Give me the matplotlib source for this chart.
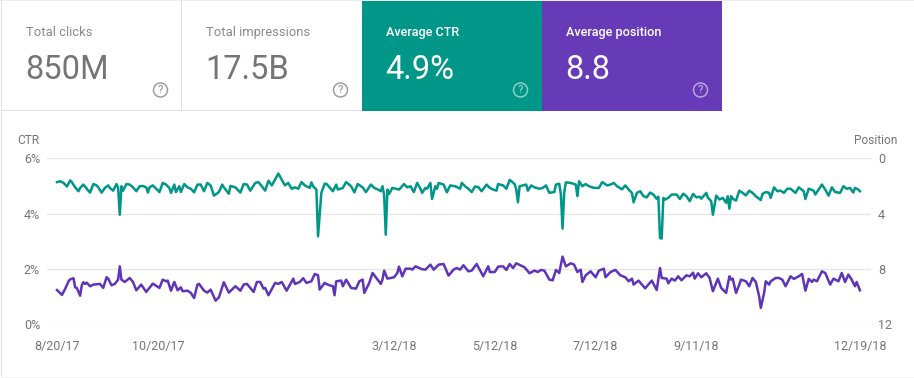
import datetime as dt
import matplotlib
matplotlib.use("Agg")
import matplotlib.pyplot as plt
import matplotlib.dates as mdates
from matplotlib.patches import Rectangle, Circle

plt.rcParams['font.family'] = ['Roboto', 'DejaVu Sans']

START = dt.date(2017, 8, 20)

card_labels = ["Total clicks", "Total impressions", "Average CTR", "Average position"]
card_values = ["850M", "17.5B", "4.9%", "8.8"]

ctr_ticks = [0, 2, 4, 6]
ctr_tick_labels = ["0%", "2%", "4%", "6%"]
pos_ticks = [0, 4, 8, 12]
date_ticks = ["2017-08-20", "2017-10-20", "2018-03-12", "2018-05-12", "2018-07-12", "2018-09-11", "2018-12-19"]
date_labels = ["8/20/17", "10/20/17", "3/12/18", "5/12/18", "7/12/18", "9/11/18", "12/19/18"]

ctr_days = [0, 2, 4, 6, 8, 9, 11, 13, 14, 16, 18, 20, 22, 24, 25, 27, 29, 31, 32, 34, 36, 37, 38, 39, 40, 42, 44, 46, 48, 50, 52, 54, 55, 56, 58, 60, 62, 64, 66, 68, 69, 71, 72, 74, 75, 77, 79, 81,
            83, 85, 87, 89, 91, 93, 95, 98, 100, 101, 104, 105, 108, 111, 113, 115, 117, 120, 122, 124, 126, 128, 130, 134, 136, 138, 140, 142, 144, 146, 148, 150, 153, 154, 155, 157, 158, 160, 162,
            163, 165, 167, 169, 170, 173, 175, 178, 180, 182, 185, 187, 190, 192, 194, 196, 197, 198, 199, 200, 201, 203, 205, 207, 208, 210, 212, 214, 216, 218, 220, 221, 223, 224, 226, 227, 229, 230, 231, 234, 236, 238, 241, 244,
            245, 247, 249, 251, 253, 255, 257, 260, 262, 264, 266, 267, 270, 272, 274, 277, 278, 279, 280, 284, 285, 287, 289, 292, 294, 296, 298, 301, 302, 304, 305, 306, 307, 308, 311, 314, 315, 316, 318, 320, 322, 325,
            328, 330, 333, 335, 337, 339, 342, 344, 346, 348, 349, 351, 353, 355, 357, 359, 361, 363, 364, 365, 366, 367, 368, 370, 372, 375, 377, 379, 381, 383, 385, 387, 389, 390, 393, 394, 396, 397, 399, 401, 403, 405, 406, 407,
            408, 409, 411, 413, 415, 417, 419, 421, 423, 426, 427, 429, 431, 432, 434, 436, 438, 440, 442, 444, 447, 449, 452, 453, 455, 458, 459, 463, 465, 467, 469, 471, 474, 476, 478, 480, 482, 483, 485, 486]
ctr_values = [5.14, 5.17, 5.11, 4.98, 5.20, 5.14, 4.95, 4.81, 4.93, 5.05, 4.90, 4.76, 5.07, 5.02, 4.95, 4.76, 4.93, 5.02, 4.93, 4.83, 5.07, 4.93, 3.96, 4.99, 4.83, 5.07, 5.05, 4.95, 4.81, 4.99, 5.00, 4.95, 4.76, 4.95, 5.02, 4.90, 4.78, 5.11, 5.05, 4.93, 4.75, 5.05, 4.78, 4.99, 4.78, 5.07, 4.95, 4.90,
              4.77, 5.05, 5.05, 4.81, 5.11, 5.02, 4.65, 4.78, 5.05, 4.95, 4.72, 5.00, 4.95, 4.76, 5.07, 5.05, 4.83, 5.11, 5.14, 4.99, 4.83, 5.19, 5.02, 5.45, 5.23, 5.02, 5.11, 4.90, 4.95, 4.90, 5.14, 5.02, 4.93, 5.13, 4.99, 4.87, 3.18, 4.75, 5.08,
              5.08, 4.95, 4.81, 5.05, 4.87, 4.93, 5.14, 4.99, 4.77, 5.07, 4.95, 4.78, 5.05, 4.93, 4.88, 4.81, 4.99, 4.69, 3.24, 4.87, 4.71, 4.93, 4.90, 4.87, 4.93, 5.07, 4.95, 4.99, 4.78, 5.11, 4.90, 4.75, 4.93, 4.90, 5.11, 4.53, 4.99, 4.90, 5.11, 5.05, 4.77, 5.02, 4.99, 4.90,
              5.11, 4.99, 4.90, 4.78, 4.98, 4.96, 4.81, 5.05, 4.93, 4.87, 4.83, 5.07, 5.02, 4.90, 5.22, 5.07, 4.87, 4.41, 4.99, 5.05, 4.83, 5.02, 4.95, 4.90, 4.93, 5.02, 4.75, 4.78, 5.05, 5.08, 4.69, 3.46, 4.75, 5.13, 5.11, 5.05, 4.63, 5.17, 4.99, 5.07, 4.99, 4.93,
              4.93, 5.14, 5.02, 5.05, 5.11, 4.99, 4.88, 5.02, 4.87, 4.75, 4.41, 4.75, 4.81, 4.63, 4.59, 4.76, 4.69, 4.53, 4.61, 3.12, 3.10, 4.57, 4.51, 4.57, 4.69, 4.69, 4.53, 4.72, 4.63, 4.45, 4.71, 4.59, 4.61, 4.54, 4.75, 4.57, 4.45, 3.96, 4.65, 4.51, 4.57, 4.39, 4.63, 4.18,
              4.63, 4.54, 4.47, 4.83, 4.75, 4.66, 4.83, 4.75, 4.63, 4.49, 4.71, 4.78, 4.75, 4.57, 4.95, 4.81, 4.83, 4.75, 4.90, 4.90, 4.75, 4.95, 4.81, 4.53, 4.90, 4.83, 4.69, 5.05, 4.87, 4.65, 4.95, 4.78, 4.75, 4.99, 4.90, 4.93, 4.76, 4.93, 4.87, 4.81]

pos_days = [0, 3, 5, 7, 8, 10, 11, 12, 14, 15, 16, 17, 18, 20, 22, 26, 28, 30, 31, 33, 35, 37, 38, 39, 41, 44, 46, 48, 51, 54, 58, 62, 64, 66, 67, 69, 71, 73, 75, 76, 79, 81,
            83, 85, 86, 89, 91, 93, 96, 98, 101, 104, 108, 111, 113, 115, 119, 121, 123, 125, 126, 128, 132, 134, 136, 139, 143, 144, 147, 149, 151, 154, 156, 158, 159, 162,
            163, 165, 167, 168, 169, 172, 173, 175, 178, 181, 183, 185, 186, 189, 191, 194, 196, 197, 198, 200, 204, 206, 207, 209, 211, 214, 215, 217, 221, 223, 226, 228, 231, 234, 237, 240, 242, 244,
            246, 249, 251, 254, 258, 261, 262, 265, 267, 270, 272, 274, 276, 278, 281, 283, 286, 289, 291, 293, 295, 298, 300, 302, 304, 306, 308, 311, 313, 315, 317, 318, 320, 323, 326,
            328, 331, 332, 335, 338, 341, 344, 346, 348, 349, 352, 356, 360, 363, 365, 366, 369, 370, 372, 374, 376, 378, 381, 383, 385, 386, 388, 390, 393, 395, 397, 400, 402, 405, 407,
            408, 409, 411, 413, 414, 417, 419, 421, 423, 425, 426, 428, 429, 431, 432, 435, 437, 439, 441, 444, 446, 449, 451, 453, 455, 457, 458, 460, 463, 465, 468, 470, 473, 475, 477, 479, 481, 483, 484, 486]
pos_values = [9.52, 9.88, 9.42, 8.89, 8.75, 8.67, 9.33, 9.37, 9.93, 9.18, 8.96, 9.08, 8.99, 9.25, 9.13, 9.08, 9.37, 8.60, 8.70, 9.18, 9.08, 8.77, 7.81, 8.77, 8.94, 8.65, 8.94, 9.54, 9.13, 9.66, 9.06, 9.37, 8.77, 8.89, 8.84, 9.57, 8.94, 9.54, 9.33, 9.61, 9.57, 9.73,
              10.10, 9.13, 9.08, 9.57, 9.71, 9.49, 10.29, 10.05, 8.96, 9.71, 9.25, 9.57, 9.13, 9.08, 9.66, 8.94, 8.94, 9.42, 9.37, 9.90, 9.01, 9.08, 8.94, 9.57, 8.70, 9.08, 8.94, 8.67, 9.01, 8.89, 8.36, 8.46, 9.49, 9.01,
              9.08, 9.18, 9.25, 9.90, 8.89, 8.84, 9.25, 8.77, 9.37, 9.42, 8.89, 8.77, 9.73, 9.01, 8.29, 8.77, 9.08, 8.77, 8.12, 8.70, 8.60, 8.29, 7.83, 8.53, 7.98, 7.98, 8.05, 7.81, 8.02, 8.05, 7.69, 8.05, 7.69, 7.64, 8.48, 8.05, 7.93, 8.05,
              7.73, 8.17, 8.12, 7.64, 8.53, 7.81, 8.22, 8.22, 7.83, 7.81, 8.07, 7.64, 7.93, 7.59, 7.76, 7.88, 8.31, 8.12, 8.22, 8.07, 8.12, 8.77, 8.82, 8.07, 8.29, 7.11, 7.81, 7.59, 7.69, 8.22, 8.05, 8.94, 8.46, 8.17, 8.60,
              8.12, 7.98, 8.60, 8.22, 8.07, 8.46, 8.60, 8.89, 8.70, 9.13, 8.84, 9.40, 8.84, 9.52, 7.93, 8.65, 8.70, 9.04, 8.70, 8.84, 8.53, 8.82, 8.46, 8.53, 8.27, 8.70, 8.31, 8.60, 8.31, 8.65, 9.61, 8.70, 9.37, 9.73, 8.53,
              8.77, 8.70, 9.73, 9.13, 8.77, 8.89, 9.25, 8.65, 8.94, 9.98, 10.82, 9.73, 8.89, 9.13, 8.89, 8.65, 8.65, 8.77, 9.25, 8.53, 8.72, 8.53, 8.36, 9.57, 8.72, 8.94, 8.77, 8.89, 8.17, 8.29, 9.13, 8.70, 8.89, 8.29, 8.94, 8.41, 8.77, 9.25, 8.94, 9.54]

W, H = 914, 378
TEAL, PURPLE = "#009688", "#673ab7"
LINE_PURPLE = "#5e35b8"
GREY = "#757575"
BORDER = "#e0e0e0"

fig = plt.figure(figsize=(W / 100, H / 100), dpi=100, facecolor="white")

# page furniture in pixel coordinates
bg = fig.add_axes([0, 0, 1, 1], zorder=0)
bg.set_xlim(0, W)
bg.set_ylim(H, 0)
bg.axis("off")
bg.add_patch(Rectangle((0, 0), W, 1, color="#eeeeee", lw=0))
bg.add_patch(Rectangle((1, 0), 1.3, H, color=BORDER, lw=0))
bg.add_patch(Rectangle((1, 376.5), W, 1, color="#f2f2f2", lw=0))
bg.add_patch(Rectangle((181, 1), 1, 109, color=BORDER, lw=0))
bg.add_patch(Rectangle((2, 110), 360, 1, color=BORDER, lw=0))
bg.add_patch(Rectangle((362, 1), 180, 110, color=TEAL, lw=0))
bg.add_patch(Rectangle((542, 1), 180, 110, color=PURPLE, lw=0))

card_x = [25.5, 205.5, 385.5, 565.5]
icon_x = [160.5, 340.5, 520.5, 700.5]
for i in range(4):
    on_colour = i >= 2
    fg = "white" if on_colour else "#8a8a8a"
    bg.text(card_x[i], 32.5, card_labels[i], color=fg, fontsize=9.4 if not on_colour else 9.1,
            fontweight="medium" if on_colour else "normal", va="center", ha="left")
    bg.text(card_x[i], 70, card_values[i], color="white" if on_colour else GREY, fontsize=23.5,
            va="center", ha="left")
    icon = "#ffffff" if on_colour else "#9e9e9e"
    alpha = 0.55 if on_colour else 1
    bg.add_patch(Circle((icon_x[i], 90), 7, fill=False, ec=icon, lw=1.1, alpha=alpha))
    bg.text(icon_x[i], 90.3, "?", color=icon, alpha=alpha, fontsize=8, fontweight="medium",
            va="center", ha="center")

bg.text(17.5, 141, "CTR", color=GREY, fontsize=8.6, va="center", ha="left")
bg.text(897, 141, "Position", color=GREY, fontsize=8.6, va="center", ha="right")

# chart
ax_l, ax_r, ax_t, ax_b = 47, 871, 158.3, 324.3
rect = [ax_l / W, 1 - ax_b / H, (ax_r - ax_l) / W, (ax_b - ax_t) / H]
ax = fig.add_axes(rect, zorder=1, facecolor="none")
ax2 = ax.twinx()
ax2.set_zorder(2)

base = mdates.date2num(START)
xlim = (base - 6.05, base + 492.7)
ctr_x = [base + d for d in ctr_days]
pos_x = [base + d for d in pos_days]

ax.plot(ctr_x, ctr_values, color=TEAL, lw=1.8, solid_joinstyle="round")
ax2.plot(pos_x, pos_values, color=LINE_PURPLE, lw=1.8, solid_joinstyle="round")

ax.set_xlim(*xlim)
ax.set_ylim(0, 6)
ax2.set_ylim(12, 0)
ax.set_yticks(ctr_ticks)
ax.set_yticklabels(ctr_tick_labels)
ax2.set_yticks(pos_ticks)
ax.set_xticks([mdates.date2num(dt.date.fromisoformat(s)) for s in date_ticks])
ax.set_xticklabels(date_labels)
ax.grid(axis="y", color="#e6e6e6", lw=1)
ax.set_axisbelow(True)
for a in (ax, ax2):
    for s in a.spines.values():
        s.set_visible(False)
ax.tick_params(axis="y", length=0, pad=5, labelsize=9, labelcolor=GREY)
ax2.tick_params(axis="y", length=0, pad=5, labelsize=9, labelcolor=GREY)
ax.tick_params(axis="x", length=0, pad=11, labelsize=9, labelcolor=GREY)

fig.savefig("out.png", dpi=100)
